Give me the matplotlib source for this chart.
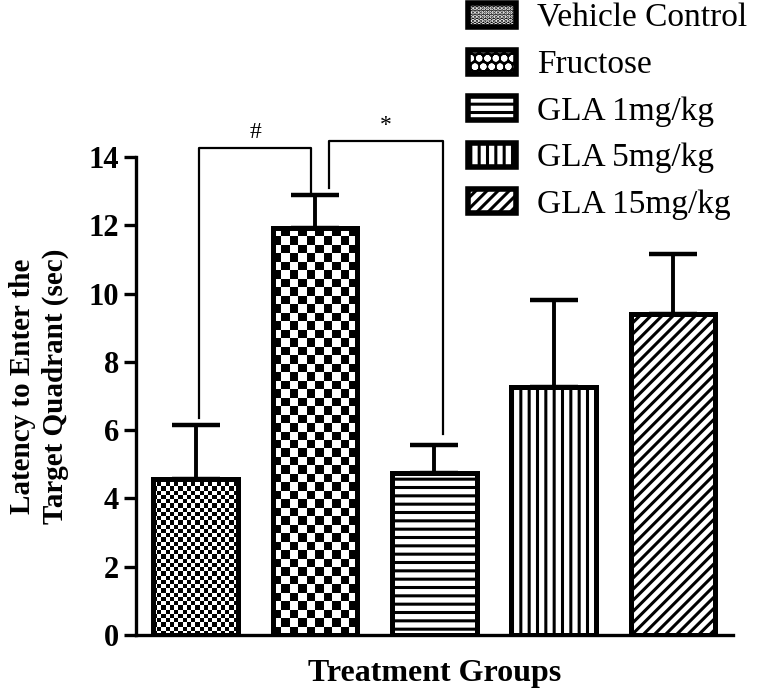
import matplotlib
matplotlib.use("Agg")
import matplotlib.pyplot as plt
import numpy as np
from matplotlib.patches import Patch
from matplotlib.legend_handler import HandlerTuple

plt.rcParams['font.family'] = ['Liberation Serif', 'DejaVu Serif']
plt.rcParams['hatch.linewidth'] = 2.2

groups = ['Vehicle Control', 'Fructose', 'GLA 1mg/kg', 'GLA 5mg/kg', 'GLA 15mg/kg']
means = [4.58, 11.92, 4.75, 7.25, 9.39]
sems = [1.58, 0.97, 0.83, 2.55, 1.76]
yticks = [0, 2, 4, 6, 8, 10, 12, 14]

# significance brackets: (bar a, bar b, label, bracket top)
sig = [(0, 1, '#', 14.26), (1, 2, '*', 14.47)]

fig = plt.figure(figsize=(7.6, 6.96), dpi=100)
ax = fig.add_axes([0.179, 0.0876, 0.785, 0.6868])

x = np.arange(len(groups))
w = 0.71
bars = ax.bar(x, means, w, color='white', edgecolor='black', linewidth=0, zorder=2)

# hatches for the line-patterned bars
hatches = [None, None, '--', '||', '///']
for b, h in zip(bars, hatches):
    if h:
        b.set_hatch(h)

# checkerboard fills (cell size in pixels)
checker = {0: 4.2, 1: 8.5}
px_x = 119.75  # pixels per x unit
px_y = 34.07   # pixels per y unit
for i, cell in checker.items():
    b = bars[i]
    x0, bw, bh = b.get_x(), b.get_width(), b.get_height()
    nc = int(round(bw * px_x / cell))
    nr = int(round(bh * px_y / cell))
    pat = (np.indices((nr, nc)).sum(axis=0) % 2).astype(float)
    im = ax.imshow(pat, cmap='gray', extent=(x0, x0 + bw, 0, bh), aspect='auto',
                   interpolation='nearest', zorder=2.5, origin='lower')
    im.set_clip_path(b)

# outlines on top
ax.bar(x, means, w, fill=False, edgecolor='black', linewidth=3.6, zorder=3)

ax.errorbar(x, means, yerr=[np.zeros(len(x)), sems], fmt='none', ecolor='black',
            elinewidth=2.8, capsize=17, capthick=3.2, zorder=1.5)

# significance brackets
tops = np.array(means) + np.array(sems)
for a, bidx, lab, yt in sig:
    xa = x[a] + (0.03 if a == 0 else 0.12)
    xb = x[bidx] + (-0.035 if bidx == 1 else 0.07)
    ax.plot([xa, xa, xb, xb], [tops[a] + 0.2, yt, yt, tops[bidx] + 0.1 if bidx == 1 else tops[bidx] + 0.3],
            color='black', lw=1.6, clip_on=False, zorder=4)
    ax.text((xa + xb) / 2, yt + 0.15, lab, ha='center', va='bottom', fontsize=17,
            clip_on=False)

ax.set_xlim(-0.5, 4.5)
ax.set_ylim(0, 14)
ax.set_yticks(yticks)
ax.set_xticks([])
for s in ['top', 'right']:
    ax.spines[s].set_visible(False)
for s in ['left', 'bottom']:
    ax.spines[s].set_linewidth(2.4)
ax.tick_params(axis='y', length=9, width=2.4, labelsize=22, pad=3)
for t in ax.get_yticklabels():
    t.set_fontweight('bold')

ax.set_ylabel('Latency to Enter the\nTarget Quadrant (sec)', fontsize=21,
              fontweight='bold', linespacing=1.3)
ax.yaxis.set_label_coords(-0.112, 0.52)
ax.set_xlabel('Treatment Groups', fontsize=23, fontweight='bold', labelpad=17)

outline = dict(fill=False, edgecolor='black', linewidth=4)
handles = [
    (Patch(facecolor='black', edgecolor='white', linewidth=0, hatch='....'), Patch(**outline)),
    (Patch(facecolor='black', edgecolor='white', linewidth=0, hatch='oo'), Patch(**outline)),
    Patch(facecolor='white', edgecolor='black', linewidth=4, hatch='--'),
    Patch(facecolor='white', edgecolor='black', linewidth=4, hatch='||'),
    Patch(facecolor='white', edgecolor='black', linewidth=4, hatch='///'),
]
fig.legend(handles, groups, loc='upper left', bbox_to_anchor=(0.612, 1.0),
           frameon=False, fontsize=24, handlelength=1.42, handleheight=0.73,
           handletextpad=0.65, labelspacing=0.475, borderpad=0.1, borderaxespad=0,
           handler_map={tuple: HandlerTuple(ndivide=1, pad=0)})

fig.savefig('out.png', dpi=100)
